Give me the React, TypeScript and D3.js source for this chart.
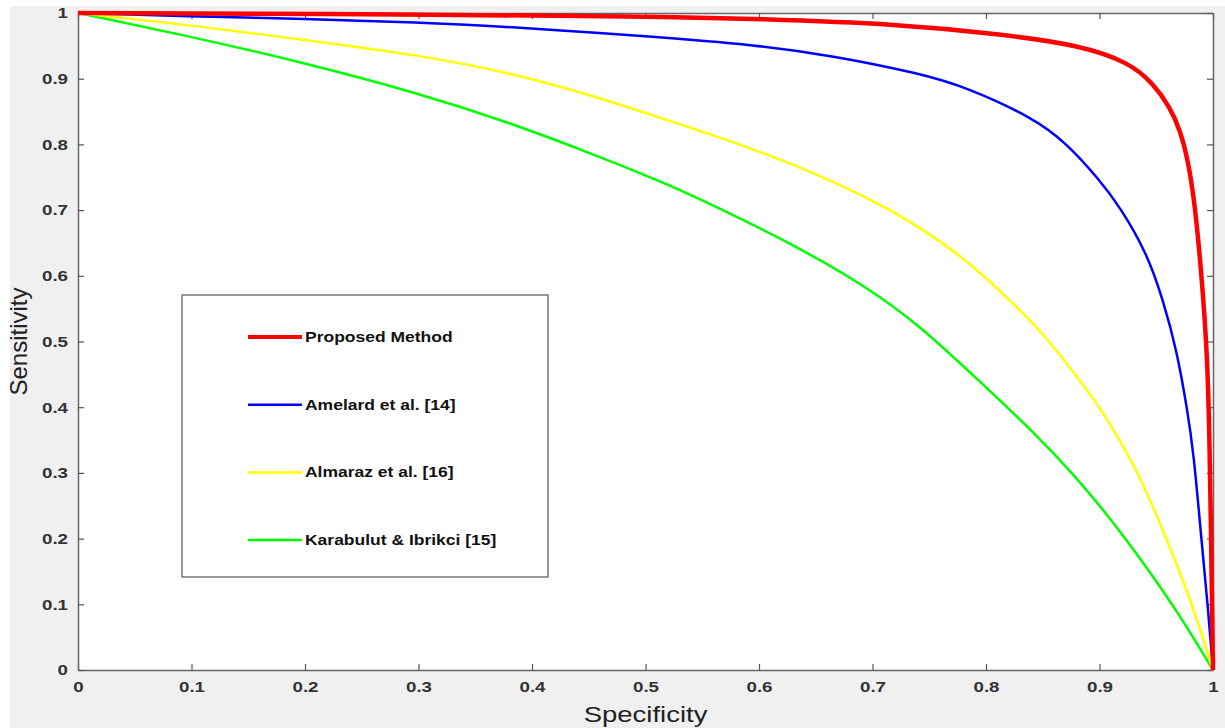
import React, { useEffect, useRef } from 'react';
import * as d3 from 'd3';

const proposedX = [0, 0.3, 0.5, 0.6, 0.724, 0.812, 0.883, 0.927, 0.947, 0.962, 0.971, 0.978, 0.984, 0.99, 0.995, 0.997, 0.999, 1];
const proposedY = [1, 0.998, 0.995, 0.991, 0.983, 0.968, 0.951, 0.924, 0.893, 0.857, 0.822, 0.776, 0.71, 0.6, 0.48, 0.35, 0.12, 0];

const amelardX = [0, 0.097, 0.2, 0.3, 0.379, 0.5, 0.6, 0.665, 0.742, 0.783, 0.842, 0.871, 0.9, 0.918, 0.942, 0.956, 0.968, 0.977, 0.983, 0.989, 0.996, 1];
const amelardY = [1, 0.995, 0.991, 0.986, 0.979, 0.965, 0.951, 0.935, 0.908, 0.887, 0.84, 0.802, 0.746, 0.705, 0.634, 0.563, 0.487, 0.4, 0.33, 0.213, 0.087, 0];

const almarazX = [0, 0.097, 0.2, 0.3, 0.379, 0.46, 0.519, 0.577, 0.636, 0.695, 0.742, 0.783, 0.821, 0.85, 0.88, 0.9, 0.915, 0.933, 0.956, 0.977, 0.991, 1];
const almarazY = [1, 0.982, 0.959, 0.936, 0.91, 0.871, 0.837, 0.804, 0.766, 0.72, 0.674, 0.624, 0.563, 0.513, 0.447, 0.4, 0.358, 0.304, 0.213, 0.122, 0.05, 0];

const karabulutX = [0, 0.097, 0.2, 0.3, 0.379, 0.46, 0.519, 0.577, 0.636, 0.695, 0.742, 0.797, 0.842, 0.877, 0.909, 0.938, 0.971, 1];
const karabulutY = [1, 0.965, 0.924, 0.878, 0.834, 0.781, 0.74, 0.693, 0.642, 0.583, 0.524, 0.435, 0.362, 0.298, 0.232, 0.165, 0.083, 0];

const seriesNames = ['Proposed Method', 'Amelard et al. [14]', 'Almaraz et al. [16]', 'Karabulut & Ibrikci [15]'];
const seriesColors = ['#ff0000', '#0000ff', '#ffff00', '#00ff00'];
const seriesWidths = [4.5, 2.5, 2.5, 2.5];

const tickValues = [0, 0.1, 0.2, 0.3, 0.4, 0.5, 0.6, 0.7, 0.8, 0.9, 1];

const App = () => {
    const svgRef = useRef<SVGSVGElement>(null);

    useEffect(() => {
        const svg = d3.select(svgRef.current);
        svg.selectAll('*').remove();

        const left = 78, right = 1213, top = 13, bottom = 670;
        const font = 'Liberation Sans, Arial, sans-serif';
        const stretch = 1.25; // the source picture is stretched sideways

        svg.append('rect').attr('x', 10).attr('y', 6).attr('width', 1215).attr('height', 722).attr('fill', '#f0f0f0');
        svg.append('rect').attr('x', left).attr('y', top).attr('width', right - left).attr('height', bottom - top).attr('fill', '#fff');

        const x = d3.scaleLinear().domain([0, 1]).range([left, right]);
        const y = d3.scaleLinear().domain([0, 1]).range([bottom, top]);

        const formatTick = (d: number) => (d === 0 || d === 1 ? String(d) : d3.format('.1f')(d));

        // axes, ticks inward, box on
        const axisStyle = (g: any) => {
            g.select('.domain').attr('stroke', '#666').attr('stroke-width', 1.5);
            g.selectAll('.tick line').attr('stroke', '#555').attr('stroke-width', 1.2);
            g.selectAll('.tick text').attr('fill', '#333').style('font-family', font).style('font-size', '15px').style('font-weight', 'bold')
                .attr('transform', `scale(${stretch},1)`);
        };

        svg.append('g').attr('transform', `translate(0,${bottom})`)
            .call(d3.axisBottom(x).tickValues(tickValues).tickFormat(formatTick as any).tickSizeInner(-6).tickSizeOuter(0).tickPadding(11))
            .call(axisStyle);
        svg.append('g').attr('transform', `translate(0,${top})`)
            .call(d3.axisTop(x).tickValues(tickValues).tickFormat(() => '').tickSizeInner(-6).tickSizeOuter(0))
            .call(axisStyle);
        svg.append('g').attr('transform', `translate(${left},0)`)
            .call(d3.axisLeft(y).tickValues(tickValues).tickFormat(formatTick as any).tickSizeInner(-6).tickSizeOuter(0).tickPadding(8))
            .call(axisStyle);
        svg.append('g').attr('transform', `translate(${right},0)`)
            .call(d3.axisRight(y).tickValues(tickValues).tickFormat(() => '').tickSizeInner(-6).tickSizeOuter(0))
            .call(axisStyle);

        const allX = [proposedX, amelardX, almarazX, karabulutX];
        const allY = [proposedY, amelardY, almarazY, karabulutY];

        const line = d3.line<[number, number]>()
            .x(d => x(d[0]))
            .y(d => y(d[1]))
            .curve(d3.curveBasis);

        // draw back to front so red is on top
        [3, 2, 1, 0].forEach(i => {
            const pts = allX[i].map((v, j) => [v, allY[i][j]] as [number, number]);
            svg.append('path')
                .datum(pts)
                .attr('fill', 'none')
                .attr('stroke', seriesColors[i])
                .attr('stroke-width', seriesWidths[i])
                .attr('stroke-linejoin', 'round')
                .attr('d', line);
        });

        // legend
        const lg = svg.append('g');
        lg.append('rect').attr('x', 182).attr('y', 295).attr('width', 366).attr('height', 282)
            .attr('fill', '#fff').attr('stroke', '#555').attr('stroke-width', 1.2);
        seriesNames.forEach((name, i) => {
            const ly = 337 + i * 67.7;
            lg.append('line').attr('x1', 248).attr('x2', 302).attr('y1', ly).attr('y2', ly)
                .attr('stroke', seriesColors[i]).attr('stroke-width', i === 0 ? 4 : 2.5);
            lg.append('text').attr('transform', `translate(305,${ly}) scale(${stretch},1)`).attr('dy', '0.35em')
                .style('font-family', font).style('font-size', '14px').style('font-weight', 'bold')
                .attr('fill', '#111').text(name);
        });

        svg.append('text').attr('transform', `translate(${(left + right) / 2},722) scale(${stretch},1)`).attr('text-anchor', 'middle')
            .style('font-family', font).style('font-size', '22px').attr('fill', '#222').text('Specificity');
        svg.append('text').attr('transform', `translate(27,${(top + bottom) / 2}) rotate(-90)`).attr('text-anchor', 'middle')
            .style('font-family', font).style('font-size', '24px').attr('fill', '#222').text('Sensitivity');
    }, []);

    return (
        <div style={{ position: 'absolute', left: 0, top: 0 }}>
            <svg ref={svgRef} width={1225} height={728} style={{ display: 'block', background: '#fff' }} />
        </div>
    );
};

export default App;
